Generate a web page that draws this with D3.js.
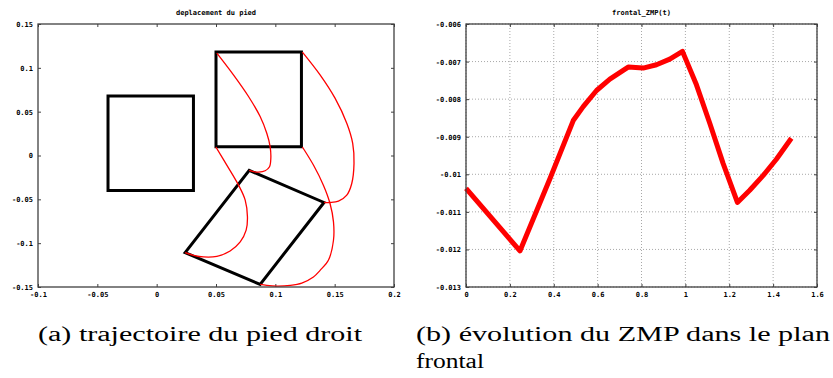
<!DOCTYPE html>
<html><head><meta charset="utf-8">
<script src="https://cdn.jsdelivr.net/npm/d3@7"></script>
<style>body{margin:0;background:#fff}
.cap{font-family:"Liberation Serif","DejaVu Serif",serif;font-size:20px}</style>
</head><body><svg id="c" width="833" height="378"></svg>
<script>
// ---------- data: chart (a) ----------
const footTitle = "deplacement du pied";
const footXTicks = [-0.1,-0.05,0,0.05,0.1,0.15,0.2];
const footXLabels = ["-0.1","-0.05","0","0.05","0.1","0.15","0.2"];
const footYTicks = [-0.15,-0.1,-0.05,0,0.05,0.1,0.15];
const footYLabels = ["-0.15","-0.1","-0.05","0","0.05","0.1","0.15"];
const leftFoot = [[-0.041,-0.04],[0.031,-0.04],[0.031,0.068],[-0.041,0.068]];
const rightFootStart = [[0.05,0.01],[0.122,0.01],[0.122,0.118],[0.05,0.118]];
const rightFootEnd = [[0.078,-0.017],[0.141,-0.0536],[0.0872,-0.147],[0.024,-0.1108]];
const cornerPathA = [[0.0507,0.1168],[0.0647,0.092],[0.0774,0.0673],[0.0872,0.0444],[0.0928,0.0253],[0.0956,0.0101],[0.0962,-0.0033],[0.0951,-0.0128],[0.0914,-0.0174],[0.0858,-0.0189],[0.0816,-0.0185],[0.078,-0.017]];
const cornerPathB = [[0.1228,0.118],[0.1377,0.092],[0.1503,0.0654],[0.1602,0.0368],[0.1652,0.0139],[0.1663,-0.009],[0.1644,-0.0319],[0.1602,-0.0452],[0.1532,-0.0521],[0.1461,-0.0536],[0.1411,-0.0536]];
const cornerPathC = [[0.0499,0.0097],[0.0591,-0.0109],[0.069,-0.0338],[0.0746,-0.0509],[0.0765,-0.07],[0.0754,-0.0852],[0.0704,-0.0986],[0.0619,-0.1089],[0.0507,-0.115],[0.0395,-0.1157],[0.0311,-0.1138],[0.024,-0.1108]];
const cornerPathD = [[0.1228,0.0097],[0.1321,-0.0109],[0.1405,-0.0338],[0.1461,-0.0547],[0.149,-0.0757],[0.149,-0.0967],[0.1447,-0.1195],[0.1377,-0.131],[0.1321,-0.1386],[0.1223,-0.1455],[0.1125,-0.1481],[0.1012,-0.1489],[0.0928,-0.1481],[0.0872,-0.147]];

// ---------- data: chart (b) ----------
const zmpTitle = "frontal_ZMP(t)";
const zmpXTicks = [0,0.2,0.4,0.6,0.8,1,1.2,1.4,1.6];
const zmpXLabels = ["0","0.2","0.4","0.6","0.8","1","1.2","1.4","1.6"];
const zmpYTicks = [-0.013,-0.012,-0.011,-0.01,-0.009,-0.008,-0.007,-0.006];
const zmpYLabels = ["-0.013","-0.012","-0.011","-0.01","-0.009","-0.008","-0.007","-0.006"];
const zmpT = [0,0.2459,0.3825,0.4888,0.5343,0.595,0.6558,0.7165,0.7393,0.8076,0.8683,0.929,0.9867,1.0505,1.1112,1.1719,1.2372,1.2934,1.354,1.4148,1.4831];
const zmpY = [-0.010376,-0.01204,-0.01012,-0.00857,-0.0082,-0.00777,-0.007468,-0.007236,-0.007147,-0.007174,-0.007085,-0.006934,-0.006729,-0.007619,-0.008642,-0.009709,-0.01075,-0.010425,-0.010035,-0.0096,-0.009042];

const captionA = "(a) trajectoire du pied droit";
const captionB1 = "(b) évolution du ZMP dans le plan";
const captionB2 = "frontal";

// ---------- drawing ----------
const svg = d3.select("#c");
svg.append("rect").attr("width",833).attr("height",378).attr("fill","#fff");
const tickFont = "'DejaVu Sans Mono', monospace";

function frame(x, y, xt, xl, yt, yl, title, grid) {
  const g = svg.append("g");
  const [x0,x1] = x.range(), [y0,y1] = y.range();
  if (grid) {
    g.selectAll(".gx").data(xt).join("line")
      .attr("x1",d=>x(d)).attr("x2",d=>x(d)).attr("y1",y0).attr("y2",y1)
      .attr("stroke","#a8a8a8").attr("stroke-width",1).attr("stroke-dasharray","1,2");
    g.selectAll(".gy").data(yt).join("line")
      .attr("y1",d=>y(d)).attr("y2",d=>y(d)).attr("x1",x0).attr("x2",x1)
      .attr("stroke","#a8a8a8").attr("stroke-width",1).attr("stroke-dasharray","1,2");
  }
  const style = sel => {
    sel.select(".domain").remove();
    sel.selectAll(".tick line").attr("stroke","#404040").attr("stroke-width",1);
    sel.selectAll("text").attr("font-family",tickFont).attr("font-weight","bold")
      .attr("font-size","7px").attr("fill","#000");
  };
  const b = g.append("g").attr("transform",`translate(0,${y0})`)
    .call(d3.axisBottom(x).tickValues(xt).tickSize(-3).tickFormat((d,i)=>xl[i]));
  style(b); b.selectAll("text").attr("y",8).attr("dy","0.35em");
  const t = g.append("g").attr("transform",`translate(0,${y1})`)
    .call(d3.axisTop(x).tickValues(xt).tickSize(-3).tickFormat(""));
  style(t);
  const l = g.append("g").attr("transform",`translate(${x0},0)`)
    .call(d3.axisLeft(y).tickValues(yt).tickSize(-3).tickFormat((d,i)=>yl[i]));
  style(l); l.selectAll("text").attr("x",-5).attr("dy","0.35em");
  const r = g.append("g").attr("transform",`translate(${x1},0)`)
    .call(d3.axisRight(y).tickValues(yt).tickSize(-3).tickFormat(""));
  style(r);
  g.append("text").attr("x",(x0+x1)/2).attr("y",13).attr("dy","0.35em")
    .attr("text-anchor","middle").attr("font-family",tickFont).attr("font-weight","bold")
    .attr("font-size","7px").text(title);
  return g;
}

// chart (a)
const xa = d3.scaleLinear().domain([-0.1,0.2]).range([38,394]);
const ya = d3.scaleLinear().domain([-0.15,0.15]).range([287,24]);
frame(xa, ya, footXTicks, footXLabels, footYTicks, footYLabels, footTitle, false);
const la = d3.line().x(d=>xa(d[0])).y(d=>ya(d[1]));
const plotA = svg.append("g");
[leftFoot, rightFootStart, rightFootEnd].forEach(p => {
  plotA.append("path").attr("d", la(p) + "Z").attr("fill","none")
    .attr("stroke","#000").attr("stroke-width",3).attr("stroke-linejoin","miter");
});
const lc = d3.line().x(d=>xa(d[0])).y(d=>ya(d[1])).curve(d3.curveCatmullRom.alpha(0.5));
[cornerPathA, cornerPathB, cornerPathC, cornerPathD].forEach(p => {
  plotA.append("path").attr("d", lc(p)).attr("fill","none")
    .attr("stroke","#ff0000").attr("stroke-width",1.3);
});
svg.append("rect").attr("x",38).attr("y",24).attr("width",356).attr("height",263)
  .attr("fill","none").attr("stroke","#404040").attr("stroke-width",1.3);

// chart (b)
const xb = d3.scaleLinear().domain([0,1.6]).range([466,817]);
const yb = d3.scaleLinear().domain([-0.013,-0.006]).range([287,24]);
frame(xb, yb, zmpXTicks, zmpXLabels, zmpYTicks, zmpYLabels, zmpTitle, true);
const lb = d3.line().x((d,i)=>xb(zmpT[i])).y(d=>yb(d));
svg.append("path").attr("d", lb(zmpY)).attr("fill","none")
  .attr("stroke","#ff0000").attr("stroke-width",5).attr("stroke-linejoin","round");
svg.append("rect").attr("x",466).attr("y",24).attr("width",351).attr("height",263)
  .attr("fill","none").attr("stroke","#404040").attr("stroke-width",1.3);

// captions
const cap = (x,y,txt,len) => {
  const t = svg.append("text").attr("class","cap").attr("x",x).attr("y",y)
    .attr("fill","#000").text(txt);
  if (len) t.attr("textLength",len).attr("lengthAdjust","spacingAndGlyphs");
};
cap(38,341,captionA,324);
cap(416,341,captionB1,414);
cap(416,368,captionB2,68);
</script></body></html>
